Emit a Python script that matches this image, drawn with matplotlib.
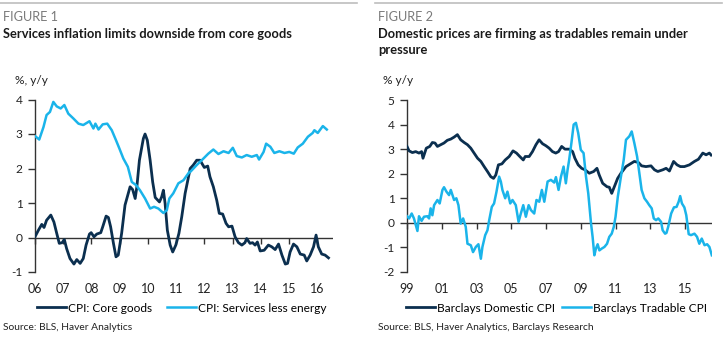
import matplotlib
matplotlib.use("Agg")
import matplotlib.pyplot as plt
from matplotlib.lines import Line2D

plt.rcParams['font.family'] = ['Lato', 'DejaVu Sans']
plt.rcParams['axes.unicode_minus'] = False

NAVY = '#0b2f4f'
CYAN = '#1ab4ea'
GREY_TXT = '#7a7a7a'
AX_COL = '#333333'

# ---------------- Figure 1 data ----------------
f1_title_tag = "FIGURE 1"
f1_title = "Services inflation limits downside from core goods"
f1_ylabel = "%, y/y"
f1_source = "Source: BLS, Haver Analytics"
f1_series_names = ["CPI: Core goods", "CPI: Services less energy"]
f1_xticks = [2006, 2007, 2008, 2009, 2010, 2011, 2012, 2013, 2014, 2015, 2016]
f1_xticklabels = ["06", "07", "08", "09", "10", "11", "12", "13", "14", "15", "16"]
f1_yticks = [-1, 0, 1, 2, 3, 4]

serv_x = [2006.0, 2006.15, 2006.3, 2006.41, 2006.53, 2006.65, 2006.77, 2006.91, 2007.04,
          2007.18, 2007.36, 2007.54, 2007.71, 2007.93, 2008.07, 2008.14, 2008.25, 2008.4,
          2008.56, 2008.72, 2008.87, 2008.99, 2009.13, 2009.29, 2009.43, 2009.58, 2009.72,
          2009.9, 2010.08, 2010.22, 2010.37, 2010.55, 2010.67, 2010.76, 2010.9, 2011.08,
          2011.26, 2011.47, 2011.5, 2011.73, 2011.97, 2012.14, 2012.32, 2012.5, 2012.68,
          2012.86, 2013.01, 2013.15, 2013.33, 2013.5, 2013.68, 2013.86, 2013.94, 2014.1,
          2014.19, 2014.34, 2014.48, 2014.66, 2014.84, 2015.01, 2015.17, 2015.31, 2015.49,
          2015.67, 2015.84, 2015.9, 2016.02, 2016.2, 2016.34]
serv_y = [2.94, 2.84, 3.20, 3.55, 3.64, 3.93, 3.80, 3.74, 3.84,
          3.59, 3.45, 3.30, 3.26, 3.37, 3.16, 3.30, 3.13, 3.28,
          3.30, 3.11, 2.82, 2.58, 2.29, 2.05, 1.61, 1.52, 1.37,
          1.13, 0.84, 0.89, 0.84, 0.71, 0.79, 1.13, 1.28, 1.57,
          1.66, 1.90, 1.90, 2.10, 2.29, 2.43, 2.55, 2.42, 2.50,
          2.45, 2.60, 2.36, 2.32, 2.39, 2.34, 2.39, 2.26, 2.48,
          2.72, 2.63, 2.45, 2.50, 2.45, 2.48, 2.43, 2.61, 2.72,
          2.92, 3.03, 3.11, 3.03, 3.23, 3.13]

core_x = [2006.0, 2006.12, 2006.24, 2006.32, 2006.41, 2006.56, 2006.67, 2006.77, 2006.86,
          2006.96, 2007.04, 2007.12, 2007.24, 2007.38, 2007.48, 2007.6, 2007.71, 2007.81,
          2007.93, 2007.99, 2008.09, 2008.19, 2008.33, 2008.4, 2008.52, 2008.6, 2008.68,
          2008.78, 2008.87, 2008.95, 2009.07, 2009.19, 2009.37, 2009.46, 2009.55, 2009.61,
          2009.7, 2009.84, 2009.9, 2009.98, 2010.08, 2010.17, 2010.26, 2010.41, 2010.49,
          2010.55, 2010.61, 2010.69, 2010.79, 2010.88, 2010.99, 2011.1, 2011.2, 2011.32,
          2011.5, 2011.61, 2011.73, 2011.85, 2011.92, 2012.0, 2012.12, 2012.2, 2012.32,
          2012.44, 2012.53, 2012.65, 2012.77, 2012.86, 2012.98, 2013.09, 2013.21, 2013.33,
          2013.44, 2013.5, 2013.62, 2013.71, 2013.8, 2013.88, 2013.98, 2014.12, 2014.27,
          2014.39, 2014.51, 2014.63, 2014.75, 2014.87, 2014.95, 2015.04, 2015.16, 2015.28,
          2015.4, 2015.54, 2015.63, 2015.75, 2015.87, 2015.96, 2016.04, 2016.16, 2016.28,
          2016.4]
core_y = [0.02, 0.21, 0.38, 0.29, 0.50, 0.65, 0.45, 0.12, -0.17,
          -0.15, -0.06, -0.32, -0.61, -0.77, -0.64, -0.75, -0.61, -0.22,
          0.10, 0.14, 0.02, 0.10, 0.14, 0.31, 0.62, 0.58, 0.31,
          -0.17, -0.56, -0.51, 0.12, 0.94, 1.47, 1.39, 1.13, 1.47,
          2.24, 2.87, 3.00, 2.82, 2.24, 1.61, 1.16, 1.03, 1.18,
          1.37, 0.99, 0.21, -0.22, -0.42, -0.22, 0.12, 0.60, 1.28,
          2.00, 2.10, 2.24, 2.24, 2.14, 2.03, 2.07, 1.76, 1.47,
          1.08, 0.70, 0.68, 0.41, 0.31, 0.33, 0.02, -0.15, -0.22,
          -0.15, -0.03, -0.17, -0.15, -0.22, -0.13, -0.39, -0.37, -0.22,
          -0.27, -0.35, -0.19, -0.51, -0.77, -0.75, -0.42, -0.19, -0.27,
          -0.48, -0.51, -0.68, -0.51, -0.27, 0.07, -0.27, -0.48, -0.51,
          -0.59]

# ---------------- Figure 2 data ----------------
f2_title_tag = "FIGURE 2"
f2_title = "Domestic prices are firming as tradables remain under\npressure"
f2_ylabel = "% y/y"
f2_source = "Source: BLS, Haver Analytics, Barclays Research"
f2_series_names = ["Barclays Domestic CPI", "Barclays Tradable CPI"]
f2_xticks = [1999, 2001, 2003, 2005, 2007, 2009, 2011, 2013, 2015]
f2_xticklabels = ["99", "01", "03", "05", "07", "09", "11", "13", "15"]
f2_yticks = [-2, -1, 0, 1, 2, 3, 4, 5]

dom_x = [1999.0, 1999.12, 1999.31, 1999.5, 1999.69, 1999.84, 1999.92, 2000.11, 2000.31,
         2000.46, 2000.61, 2000.75, 2000.94, 2001.13, 2001.32, 2001.52, 2001.71, 2001.9,
         2002.09, 2002.29, 2002.48, 2002.67, 2002.86, 2003.06, 2003.25, 2003.44, 2003.63,
         2003.82, 2003.98, 2004.11, 2004.26, 2004.46, 2004.65, 2004.88, 2005.1, 2005.3,
         2005.49, 2005.69, 2005.8, 2006.03, 2006.22, 2006.42, 2006.6, 2006.8, 2006.99,
         2007.18, 2007.37, 2007.56, 2007.72, 2007.9, 2008.09, 2008.34, 2008.53, 2008.66,
         2008.85, 2009.05, 2009.24, 2009.49, 2009.74, 2009.93, 2010.06, 2010.26, 2010.51,
         2010.64, 2010.78, 2010.93, 2011.12, 2011.31, 2011.6, 2011.85, 2012.08, 2012.31,
         2012.5, 2012.75, 2013.04, 2013.24, 2013.43, 2013.72, 2013.91, 2014.1, 2014.34,
         2014.54, 2014.73, 2014.96, 2015.25, 2015.54, 2015.77, 2016.02, 2016.21, 2016.4,
         2016.5]
dom_y = [3.11, 2.93, 2.86, 2.90, 2.84, 2.90, 2.63, 3.04, 3.11,
         3.27, 3.25, 3.11, 3.18, 3.25, 3.36, 3.41, 3.49, 3.59,
         3.38, 3.27, 3.18, 3.04, 2.84, 2.63, 2.50, 2.29, 2.09,
         1.88, 1.81, 1.95, 2.36, 2.40, 2.56, 2.70, 2.93, 2.84,
         2.70, 2.56, 2.70, 2.70, 2.90, 3.18, 3.38, 3.22, 3.14,
         3.04, 2.90, 2.84, 2.90, 3.11, 3.00, 3.00, 2.90, 2.63,
         2.36, 2.22, 2.16, 2.02, 2.09, 2.22, 1.95, 1.61, 1.47,
         1.45, 1.20, 1.47, 1.81, 2.02, 2.29, 2.40, 2.50, 2.46,
         2.32, 2.29, 2.32, 2.16, 2.09, 2.16, 2.22, 2.11, 2.50,
         2.36, 2.29, 2.29, 2.36, 2.50, 2.59, 2.84, 2.77, 2.84,
         2.76]

trad_x = [1999.0, 1999.12, 1999.27, 1999.4, 1999.6, 1999.69, 1999.84, 1999.98, 2000.17,
          2000.27, 2000.36, 2000.46, 2000.56, 2000.75, 2000.88, 2001.04, 2001.13, 2001.27,
          2001.42, 2001.52, 2001.71, 2001.84, 2001.96, 2002.09, 2002.23, 2002.38, 2002.48,
          2002.67, 2002.8, 2002.96, 2003.11, 2003.25, 2003.34, 2003.5, 2003.63, 2003.73,
          2003.88, 2004.01, 2004.15, 2004.3, 2004.4, 2004.49, 2004.65, 2004.78, 2004.94,
          2005.07, 2005.26, 2005.42, 2005.55, 2005.69, 2005.84, 2006.0, 2006.13, 2006.32,
          2006.45, 2006.61, 2006.76, 2006.9, 2007.09, 2007.28, 2007.47, 2007.57, 2007.72,
          2007.86, 2008.01, 2008.14, 2008.24, 2008.33, 2008.46, 2008.59, 2008.72, 2008.85,
          2009.0, 2009.16, 2009.3, 2009.43, 2009.59, 2009.68, 2009.78, 2009.87, 2009.97,
          2010.07, 2010.2, 2010.36, 2010.51, 2010.64, 2010.78, 2010.9, 2011.0, 2011.13,
          2011.31, 2011.47, 2011.6, 2011.79, 2011.93, 2012.08, 2012.24, 2012.37, 2012.5,
          2012.66, 2012.81, 2012.94, 2013.08, 2013.2, 2013.33, 2013.46, 2013.62, 2013.71,
          2013.85, 2013.93, 2014.03, 2014.2, 2014.36, 2014.51, 2014.63, 2014.72, 2014.82,
          2014.96, 2015.07, 2015.21, 2015.34, 2015.54, 2015.69, 2015.82, 2015.96, 2016.12,
          2016.27, 2016.4, 2016.54]
trad_y = [0.27, 0.18, 0.38, 0.18, -0.33, 0.27, 0.08, 0.25, 0.27,
          0.18, 0.59, 0.31, 0.72, 0.93, 0.79, 1.34, 1.45, 1.27,
          1.13, 1.34, 0.93, 1.00, 0.72, -0.03, 0.18, -0.16, -0.85,
          -0.91, -1.19, -0.98, -0.87, -1.46, -0.98, -0.50, -0.30, 0.11,
          0.65, 0.79, 1.27, 1.88, 1.68, 1.34, 1.00, 1.27, 0.79,
          0.93, 0.72, 0.04, 0.38, 0.72, 0.25, 0.72, 0.52, 0.38,
          0.93, 0.86, 1.34, 0.86, 1.68, 1.75, 1.64, 1.86, 1.34,
          1.88, 2.29, 1.61, 2.16, 2.56, 3.25, 4.00, 4.07, 3.66,
          2.97, 2.84, 1.88, 1.20, -0.03, -0.57, -1.32, -1.05, -0.87,
          -1.12, -1.05, -0.98, -0.85, -0.57, -0.44, -0.16, 0.25, 1.06,
          1.88, 2.56, 3.38, 3.52, 3.72, 3.25, 2.70, 2.02, 1.34,
          1.00, 0.86, 0.72, 0.59, 0.18, 0.11, 0.18, 0.04, -0.30,
          -0.44, -0.41, -0.16, 0.38, 0.63, 0.65, 0.86, 1.09, 0.79,
          0.63, 0.31, -0.46, -0.50, -0.44, -0.57, -0.85, -0.64, -0.91,
          -0.87, -0.98, -1.32]

W, H = 725, 340
fig = plt.figure(figsize=(W / 100, H / 100), dpi=100)


def fx(px):
    return px / W


def fy(py):
    return 1 - py / H


def header(x0, x1, tag, title, ylab, ylab_x, source):
    fig.add_artist(Line2D([fx(x0), fx(x1)], [fy(3), fy(3)], color='#bdbdbd', lw=1.2))
    fig.text(fx(x0 + 3), fy(17), tag, color=GREY_TXT, fontsize=9.2, va='center', ha='left')
    fig.text(fx(x0 + 3), fy(28), title, color='#1a1a1a', fontsize=9.3, fontweight='bold',
             va='top', ha='left', linespacing=1.45)
    fig.text(fx(ylab_x), fy(81), ylab, color='#222222', fontsize=8.6, va='center', ha='left')
    fig.text(fx(x0 + 3), fy(328), source, color='#222222', fontsize=7.4, va='center', ha='left')


def style_axes(ax, xlim, ylim, xticks, xlabels, yticks, zero_frac):
    ax.set_xlim(*xlim)
    ax.set_ylim(*ylim)
    for s in ['top', 'right', 'bottom']:
        ax.spines[s].set_visible(False)
    ax.spines['left'].set_color(AX_COL)
    ax.spines['left'].set_linewidth(1.0)
    ax.set_yticks(yticks)
    ax.set_yticklabels([str(v) for v in yticks])
    ax.tick_params(axis='y', direction='out', length=5, width=1.0, color=AX_COL,
                   labelsize=8.6, labelcolor='#222222', pad=4)
    # tick labels at the bottom of the plot
    ax.set_xticks(xticks)
    ax.set_xticklabels(xlabels)
    ax.tick_params(axis='x', length=0, pad=8, labelsize=9.0, labelcolor='#222222')
    # zero line with downward ticks
    ax.axhline(0, color=AX_COL, lw=1.0, zorder=1)
    sec = ax.secondary_xaxis(zero_frac)
    sec.set_xticks(xticks)
    sec.set_xticklabels([''] * len(xticks))
    sec.spines['bottom'].set_visible(False)
    sec.spines['top'].set_visible(False)
    sec.tick_params(axis='x', direction='out', length=4, width=1.0, color=AX_COL,
                    labelbottom=False, labeltop=False)
    ax.set_facecolor('none')


# ---------- Figure 1 ----------
header(0, 357, f1_title_tag, f1_title, f1_ylabel, 15, f1_source)
ax1 = fig.add_axes([fx(35), fy(272), fx(333) - fx(35), fy(99.5) - fy(272)])
l1, = ax1.plot(core_x, core_y, color=NAVY, lw=2.0, solid_joinstyle='round', zorder=3)
l2, = ax1.plot(serv_x, serv_y, color=CYAN, lw=1.8, solid_joinstyle='round', zorder=3)
style_axes(ax1, (2006.0, 2016.56), (-1, 4), f1_xticks, f1_xticklabels, f1_yticks, 0.2)
fig.legend([l1, l2], f1_series_names, loc='center left',
           bbox_to_anchor=(fx(37), fy(308)), ncol=2, frameon=False,
           fontsize=8.6, handlelength=2.45, handletextpad=0.15, columnspacing=1.2,
           borderpad=0, borderaxespad=0)

# ---------- Figure 2 ----------
header(375, 722, f2_title_tag, f2_title, f2_ylabel, 383, f2_source)
ax2 = fig.add_axes([fx(407), fy(272), fx(712) - fx(407), fy(100) - fy(272)])
l3, = ax2.plot(dom_x, dom_y, color=NAVY, lw=2.0, solid_joinstyle='round', zorder=3)
l4, = ax2.plot(trad_x, trad_y, color=CYAN, lw=1.8, solid_joinstyle='round', zorder=3)
style_axes(ax2, (1999.0, 2016.55), (-2, 5), f2_xticks, f2_xticklabels, f2_yticks, 2 / 7)
fig.legend([l3, l4], f2_series_names, loc='center left',
           bbox_to_anchor=(fx(406), fy(308)), ncol=2, frameon=False,
           fontsize=8.6, handlelength=2.45, handletextpad=0.15, columnspacing=0.6,
           borderpad=0, borderaxespad=0)

fig.savefig('out.png', dpi=100)
